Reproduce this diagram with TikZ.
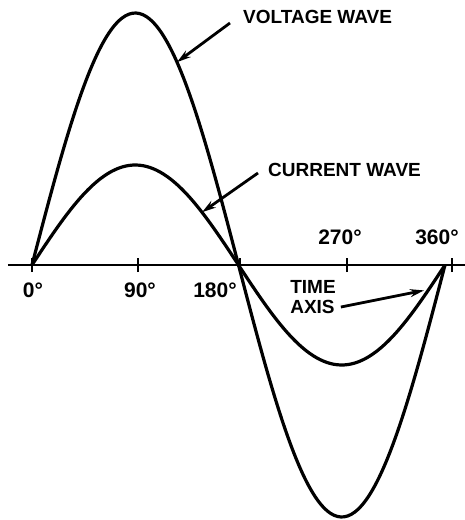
\documentclass[tikz,border=0pt]{standalone}
\usepackage{fontspec}
\newfontfamily\letterfont{Liberation Sans}
\usepackage{tikz}
\usetikzlibrary{arrows.meta}

\begin{document}
\begin{tikzpicture}[x=1pt,y=1pt,
    axis/.style={draw=black,line width=1.8pt},
    tick/.style={draw=black,line width=1.6pt},
    wave/.style={draw=black,line width=3.2pt,smooth},
    lbl/.style={font=\fontsize{19}{20}\selectfont\letterfont\bfseries,inner sep=1pt},
    deg/.style={font=\fontsize{21}{22}\selectfont\letterfont\bfseries,inner sep=1pt},
    ptr/.style={->,>={Stealth[length=14pt,width=8pt]},line width=2.8pt},
  ]
    \useasboundingbox (-32,-255) rectangle (433,265);

    % Time axis
    \coordinate (left)  at (-24,0);
    \coordinate (right) at (433,0);
    \draw[axis] (left) -- (right);
    \foreach \t in {0,106,208,315,420}
      \draw[tick] (\t,-7) -- (\t,7);

    % Waves
    \draw[wave] plot[domain=0:413,samples=120] (\x,{252*sin(\x/413*360)});
    \draw[wave] plot[domain=0:413,samples=120] (\x,{100*sin(\x/413*360)});

    % Degree labels
    \node[deg] (d0)   at (1,-25)   {0°};
    \node[deg] (d90)  at (108,-25) {90°};
    \node[deg] (d180) at (183,-25) {180°};
    \node[deg] (d270) at (308,28)  {270°};
    \node[deg] (d360) at (405,28)  {360°};

    % Wave labels
    \node[lbl,anchor=west] (vlabel) at (210,248) {VOLTAGE WAVE};
    \node[lbl,anchor=west] (clabel) at (235,95)  {CURRENT WAVE};
    \node[lbl,align=left] (tlabel) at (281,-32) {TIME\\AXIS};

    % Pointers
    \coordinate (vtip) at (145,{252*sin(145/413*360)});
    \coordinate (ctip) at (170,{100*sin(170/413*360)});
    \coordinate (ttip) at (392,{100*sin(392/413*360)+6});
    \draw[ptr] ([xshift=-12pt,yshift=-6pt]vlabel.west) -- (vtip);
    \draw[ptr] ([xshift=-9pt,yshift=-3pt]clabel.west) -- (ctip);
    \draw[ptr] ([xshift=4pt,yshift=-10pt]tlabel.east) -- (ttip);

\end{tikzpicture}
\end{document}
